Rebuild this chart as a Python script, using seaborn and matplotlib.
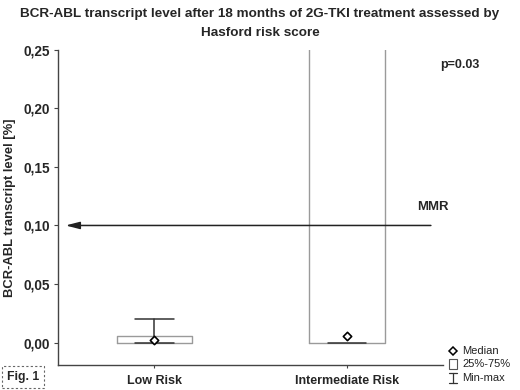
import matplotlib
matplotlib.use("Agg")
import matplotlib.pyplot as plt
import seaborn as sns
import pandas as pd
from matplotlib.lines import Line2D
from matplotlib.patches import Rectangle

# ---- data ----
categories = ["Low Risk", "Intermediate Risk"]
medians = [0.002, 0.006]
q1 = [0.0, 0.0]
q3 = [0.006, 0.30]
mins = [0.0, 0.0]
maxs = [0.020, 0.30]
yticks = [0.00, 0.05, 0.10, 0.15, 0.20, 0.25]
ytick_labels = ["0,00", "0,05", "0,10", "0,15", "0,20", "0,25"]
mmr_level = 0.10

sns.set_theme(style="white")
plt.rcParams['font.family'] = ['Liberation Sans', 'DejaVu Sans']

fig = plt.figure(figsize=(5.2, 3.9), dpi=100)
ax = fig.add_axes([0.1115, 0.064, 0.741, 0.809])

stats = []
for i, c in enumerate(categories):
    stats.append(dict(med=medians[i], q1=q1[i], q3=q3[i],
                      whislo=mins[i], whishi=maxs[i], fliers=[], label=c))
ax.bxp(stats, positions=range(len(categories)), widths=0.39,
       showfliers=False, patch_artist=False,
       boxprops=dict(color="#9a9a9a", lw=1.0),
       whiskerprops=dict(color="#333333", lw=1.1),
       capprops=dict(color="#333333", lw=1.1),
       medianprops=dict(visible=False),
       capwidths=0.2, zorder=2)

df = pd.DataFrame({"cat": range(len(categories)), "median": medians})
sns.scatterplot(data=df, x="cat", y="median", marker="D", s=18,
                facecolor="white", edgecolor="black", linewidth=1.2,
                ax=ax, zorder=4, legend=False)

ax.set_xlim(-0.5, 1.5)
ax.set_ylim(-0.019, 0.25)
ax.set_xticks(range(len(categories)))
ax.set_xticklabels(categories, fontweight="bold", fontsize=9)
ax.set_yticks(yticks)
ax.set_yticklabels(ytick_labels, fontweight="bold", fontsize=9.8)
ax.set_xlabel("")
ax.set_ylabel("BCR-ABL transcript level [%]", fontweight="bold", fontsize=9.4,
              labelpad=5)
for s in ["top", "right"]:
    ax.spines[s].set_visible(False)
for s in ["left", "bottom"]:
    ax.spines[s].set_color("#444444")
    ax.spines[s].set_linewidth(1.0)
ax.tick_params(axis="y", left=True, length=3, width=0.8, color="#444444", pad=3)
ax.tick_params(axis="x", bottom=True, length=2, width=0.8, color="#444444", pad=5)

# MMR arrow
ax.annotate("", xy=(-0.475, mmr_level), xytext=(1.45, mmr_level),
            arrowprops=dict(arrowstyle="-|>,head_length=0.7,head_width=0.18",
                            color="#222222", lw=1.1), zorder=5)
ax.text(1.445, 0.116, "MMR", fontweight="bold", fontsize=9.5, ha="center",
        va="center")
ax.text(1.585, 0.237, "p=0.03", fontweight="bold", fontsize=9, ha="center",
        va="center", clip_on=False)

# title
fig.text(0.5, 0.963, "BCR-ABL transcript level after 18 months of 2G-TKI treatment assessed by",
         ha="center", va="center", fontweight="bold", fontsize=9.7)
fig.text(0.5, 0.915, "Hasford risk score", ha="center", va="center",
         fontweight="bold", fontsize=9.7)

# legend (manual)
lx = 453 / 520
ys = [1 - 351 / 390, 1 - 364 / 390, 1 - 378 / 390]
fig.add_artist(Line2D([lx], [ys[0]], marker="D", ms=4, mfc="white",
                      mec="black", mew=1.1, ls="none", transform=fig.transFigure))
fig.add_artist(Rectangle((lx - 4 / 520, ys[1] - 5 / 390), 8 / 520, 10 / 390,
                         fill=False, ec="#555555", lw=0.8, transform=fig.transFigure))
fig.add_artist(Line2D([lx, lx], [ys[2] - 5 / 390, ys[2] + 5 / 390],
                      color="#333333", lw=0.9, transform=fig.transFigure))
for yy in (ys[2] - 5 / 390, ys[2] + 5 / 390):
    fig.add_artist(Line2D([lx - 4 / 520, lx + 4 / 520], [yy, yy],
                          color="#333333", lw=0.9, transform=fig.transFigure))
for t, yy in zip(["Median", "25%-75%", "Min-max"], ys):
    fig.text(lx + 9 / 520, yy, t, ha="left", va="center", fontsize=8,
             color="#222222")

# Fig. 1 label
fig.text(23 / 520, 1 - 377 / 390, "Fig. 1", ha="center", va="center",
         fontweight="bold", fontsize=8.8,
         bbox=dict(boxstyle="square,pad=0.4", fc="white", ec="#666666",
                   lw=0.8, ls=(0, (2, 2))))

fig.savefig("out.png", dpi=100)
